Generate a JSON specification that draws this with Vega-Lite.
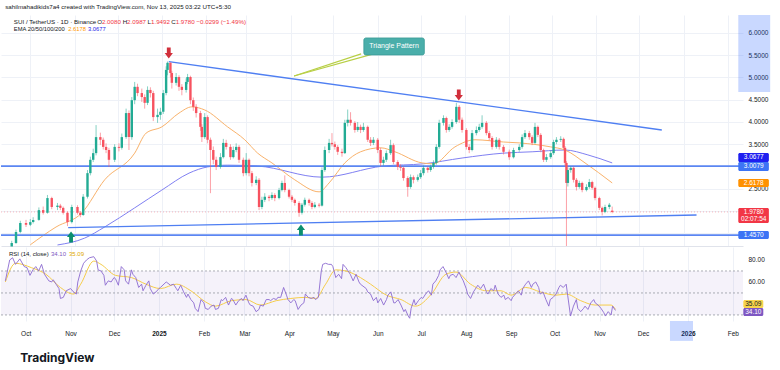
{
"$schema":"https://vega.github.io/schema/vega-lite/v6.json",
"background":"#ffffff",
"padding":{"left":0,"top":3,"right":0,"bottom":0},
"config":{"view":{"stroke":null},"font":"Liberation Sans","axis":{"title":null,"domain":false,"ticks":false,"gridColor":"#eef1f7","gridWidth":1,"labelColor":"#131722","labelFontSize":6.5,"labelFont":"Liberation Sans","labelOverlap":false,"labelBound":false},"text":{"font":"Liberation Sans"}},
"title":{"text":"TradingView","orient":"bottom","anchor":"start","font":"Inter","fontSize":12,"fontWeight":"bold","color":"#131722","dx":20,"offset":12},
"spacing":0,
"datasets":{
"candles":[
{"d":-105,"o":1.20,"h":1.33,"l":1.17,"c":1.28},{"d":-102,"o":1.28,"h":1.58,"l":1.26,"c":1.53},{"d":-99,"o":1.53,"h":1.78,"l":1.50,"c":1.73},{"d":-95,"o":1.73,"h":1.80,"l":1.64,"c":1.69},{"d":-92,"o":1.69,"h":1.82,"l":1.66,"c":1.75},{"d":-90,"o":1.75,"h":1.86,"l":1.72,"c":1.80},{"d":-86,"o":1.80,"h":2.08,"l":1.78,"c":2.02},{"d":-83,"o":2.02,"h":2.10,"l":1.92,"c":1.96},{"d":-80,"o":1.96,"h":2.36,"l":1.94,"c":2.29},{"d":-77,"o":2.29,"h":2.32,"l":2.04,"c":2.09},{"d":-73,"o":2.09,"h":2.18,"l":2.02,"c":2.12},{"d":-71,"o":2.12,"h":2.16,"l":2.02,"c":2.07},{"d":-69,"o":2.07,"h":2.10,"l":1.92,"c":1.96},{"d":-66,"o":1.96,"h":1.99,"l":1.66,"c":1.75},{"d":-63,"o":1.75,"h":2.14,"l":1.72,"c":2.09},{"d":-59,"o":2.09,"h":2.13,"l":1.92,"c":1.96},{"d":-57,"o":1.96,"h":2.00,"l":1.86,"c":1.91},{"d":-55,"o":1.91,"h":2.38,"l":1.89,"c":2.32},{"d":-52,"o":2.32,"h":2.92,"l":2.28,"c":2.85},{"d":-50,"o":2.85,"h":3.22,"l":2.80,"c":3.15},{"d":-48,"o":3.15,"h":3.40,"l":3.10,"c":3.30},{"d":-46,"o":3.30,"h":3.93,"l":3.25,"c":3.66},{"d":-43,"o":3.66,"h":3.76,"l":3.48,"c":3.60},{"d":-41,"o":3.60,"h":3.65,"l":3.38,"c":3.44},{"d":-39,"o":3.44,"h":3.52,"l":3.30,"c":3.37},{"d":-37,"o":3.37,"h":3.42,"l":2.99,"c":3.15},{"d":-33,"o":3.15,"h":3.50,"l":3.10,"c":3.44},{"d":-30,"o":3.44,"h":3.52,"l":3.34,"c":3.42},{"d":-28,"o":3.42,"h":3.74,"l":3.38,"c":3.66},{"d":-25,"o":3.66,"h":4.30,"l":3.62,"c":4.20},{"d":-23,"o":4.20,"h":4.26,"l":3.37,"c":3.66},{"d":-21,"o":3.66,"h":4.56,"l":3.60,"c":4.49},{"d":-19,"o":4.49,"h":4.90,"l":4.40,"c":4.79},{"d":-17,"o":4.79,"h":4.86,"l":4.58,"c":4.65},{"d":-14,"o":4.65,"h":4.75,"l":4.45,"c":4.56},{"d":-12,"o":4.56,"h":4.62,"l":4.30,"c":4.43},{"d":-10,"o":4.43,"h":4.80,"l":4.38,"c":4.72},{"d":-8,"o":4.72,"h":4.78,"l":4.55,"c":4.65},{"d":-6,"o":4.65,"h":4.70,"l":4.02,"c":4.11},{"d":-3,"o":4.11,"h":4.30,"l":3.98,"c":4.16},{"d":-1,"o":4.16,"h":4.32,"l":4.05,"c":4.23},{"d":1,"o":4.23,"h":4.72,"l":4.18,"c":4.65},{"d":3,"o":4.65,"h":5.25,"l":4.60,"c":5.17},{"d":4,"o":5.17,"h":5.36,"l":5.05,"c":5.33},{"d":6,"o":5.33,"h":5.34,"l":5.00,"c":5.10},{"d":7,"o":5.10,"h":5.15,"l":4.75,"c":4.88},{"d":10,"o":4.88,"h":5.10,"l":4.82,"c":5.01},{"d":12,"o":5.01,"h":5.05,"l":4.70,"c":4.79},{"d":14,"o":4.79,"h":4.85,"l":4.60,"c":4.72},{"d":17,"o":4.72,"h":4.98,"l":4.66,"c":4.90},{"d":18,"o":4.90,"h":5.08,"l":4.85,"c":5.01},{"d":20,"o":5.01,"h":5.04,"l":4.40,"c":4.49},{"d":22,"o":4.49,"h":4.55,"l":4.25,"c":4.34},{"d":24,"o":4.34,"h":4.40,"l":4.10,"c":4.20},{"d":27,"o":4.20,"h":4.25,"l":3.80,"c":3.89},{"d":28,"o":3.89,"h":3.95,"l":3.55,"c":3.66},{"d":30,"o":3.66,"h":4.20,"l":3.62,"c":4.11},{"d":32,"o":4.11,"h":4.15,"l":3.52,"c":3.60},{"d":34,"o":3.60,"h":3.65,"l":2.40,"c":3.37},{"d":36,"o":3.37,"h":3.45,"l":3.05,"c":3.15},{"d":38,"o":3.15,"h":3.22,"l":2.92,"c":2.99},{"d":41,"o":2.99,"h":3.30,"l":2.95,"c":3.21},{"d":43,"o":3.21,"h":3.62,"l":3.18,"c":3.53},{"d":45,"o":3.53,"h":3.60,"l":3.38,"c":3.44},{"d":48,"o":3.44,"h":3.50,"l":3.15,"c":3.21},{"d":50,"o":3.21,"h":3.45,"l":3.18,"c":3.37},{"d":52,"o":3.37,"h":3.52,"l":3.32,"c":3.44},{"d":54,"o":3.44,"h":3.48,"l":3.08,"c":3.15},{"d":57,"o":3.15,"h":3.20,"l":2.78,"c":2.85},{"d":59,"o":2.85,"h":3.30,"l":2.80,"c":3.15},{"d":61,"o":3.15,"h":3.18,"l":2.78,"c":2.85},{"d":63,"o":2.85,"h":2.90,"l":2.55,"c":2.63},{"d":66,"o":2.63,"h":2.78,"l":2.58,"c":2.70},{"d":68,"o":2.70,"h":2.74,"l":2.02,"c":2.09},{"d":70,"o":2.09,"h":2.32,"l":2.04,"c":2.25},{"d":72,"o":2.25,"h":2.40,"l":2.20,"c":2.32},{"d":75,"o":2.32,"h":2.36,"l":2.22,"c":2.29},{"d":77,"o":2.29,"h":2.42,"l":2.25,"c":2.36},{"d":79,"o":2.36,"h":2.40,"l":2.22,"c":2.29},{"d":82,"o":2.29,"h":2.52,"l":2.26,"c":2.47},{"d":84,"o":2.47,"h":2.68,"l":2.44,"c":2.63},{"d":86,"o":2.63,"h":2.80,"l":2.42,"c":2.47},{"d":89,"o":2.47,"h":2.50,"l":2.28,"c":2.32},{"d":91,"o":2.32,"h":2.36,"l":2.20,"c":2.25},{"d":93,"o":2.25,"h":2.28,"l":2.12,"c":2.18},{"d":96,"o":2.18,"h":2.22,"l":1.87,"c":1.96},{"d":98,"o":1.96,"h":2.18,"l":1.92,"c":2.14},{"d":100,"o":2.14,"h":2.30,"l":2.10,"c":2.25},{"d":103,"o":2.25,"h":2.28,"l":2.12,"c":2.18},{"d":105,"o":2.18,"h":2.22,"l":2.04,"c":2.09},{"d":107,"o":2.09,"h":2.20,"l":2.06,"c":2.14},{"d":110,"o":2.14,"h":2.18,"l":2.08,"c":2.12},{"d":112,"o":2.12,"h":2.98,"l":2.10,"c":2.92},{"d":114,"o":2.92,"h":3.45,"l":2.88,"c":3.37},{"d":117,"o":3.37,"h":3.62,"l":3.30,"c":3.53},{"d":119,"o":3.53,"h":3.75,"l":3.45,"c":3.50},{"d":121,"o":3.50,"h":3.56,"l":3.38,"c":3.44},{"d":123,"o":3.44,"h":3.48,"l":3.26,"c":3.33},{"d":126,"o":3.33,"h":3.40,"l":3.22,"c":3.30},{"d":128,"o":3.30,"h":4.05,"l":3.28,"c":3.98},{"d":130,"o":3.98,"h":4.28,"l":3.90,"c":4.05},{"d":132,"o":4.05,"h":4.22,"l":3.92,"c":3.98},{"d":135,"o":3.98,"h":4.02,"l":3.76,"c":3.82},{"d":137,"o":3.82,"h":4.00,"l":3.78,"c":3.89},{"d":139,"o":3.89,"h":3.94,"l":3.75,"c":3.82},{"d":141,"o":3.82,"h":3.98,"l":3.78,"c":3.89},{"d":144,"o":3.89,"h":3.92,"l":3.55,"c":3.60},{"d":146,"o":3.60,"h":3.66,"l":3.46,"c":3.53},{"d":148,"o":3.53,"h":3.66,"l":3.48,"c":3.60},{"d":151,"o":3.60,"h":3.64,"l":3.30,"c":3.37},{"d":153,"o":3.37,"h":3.42,"l":3.00,"c":3.08},{"d":155,"o":3.08,"h":3.22,"l":3.02,"c":3.15},{"d":157,"o":3.15,"h":3.36,"l":3.10,"c":3.30},{"d":160,"o":3.30,"h":3.60,"l":3.26,"c":3.48},{"d":162,"o":3.48,"h":3.52,"l":3.05,"c":3.10},{"d":165,"o":3.10,"h":3.14,"l":2.92,"c":2.99},{"d":167,"o":2.99,"h":3.05,"l":2.90,"c":2.97},{"d":169,"o":2.97,"h":3.00,"l":2.68,"c":2.74},{"d":172,"o":2.74,"h":2.78,"l":2.32,"c":2.54},{"d":174,"o":2.54,"h":2.82,"l":2.50,"c":2.76},{"d":176,"o":2.76,"h":2.80,"l":2.62,"c":2.70},{"d":179,"o":2.70,"h":2.82,"l":2.66,"c":2.76},{"d":181,"o":2.76,"h":2.92,"l":2.72,"c":2.85},{"d":183,"o":2.85,"h":3.02,"l":2.80,"c":2.97},{"d":186,"o":2.97,"h":3.00,"l":2.86,"c":2.92},{"d":188,"o":2.92,"h":3.04,"l":2.88,"c":2.99},{"d":190,"o":2.99,"h":3.14,"l":2.95,"c":3.08},{"d":192,"o":3.08,"h":3.50,"l":3.04,"c":3.44},{"d":194,"o":3.44,"h":4.05,"l":3.40,"c":3.98},{"d":197,"o":3.98,"h":4.15,"l":3.92,"c":4.09},{"d":199,"o":4.09,"h":4.12,"l":3.76,"c":3.82},{"d":201,"o":3.82,"h":3.95,"l":3.78,"c":3.89},{"d":203,"o":3.89,"h":4.06,"l":3.85,"c":4.00},{"d":206,"o":4.00,"h":4.43,"l":3.96,"c":4.34},{"d":208,"o":4.34,"h":4.38,"l":3.98,"c":4.05},{"d":210,"o":4.05,"h":4.10,"l":3.76,"c":3.82},{"d":213,"o":3.82,"h":3.86,"l":3.38,"c":3.44},{"d":215,"o":3.44,"h":3.50,"l":3.30,"c":3.37},{"d":217,"o":3.37,"h":3.82,"l":3.34,"c":3.75},{"d":220,"o":3.75,"h":3.90,"l":3.70,"c":3.82},{"d":222,"o":3.82,"h":3.96,"l":3.78,"c":3.89},{"d":224,"o":3.89,"h":4.15,"l":3.85,"c":3.98},{"d":227,"o":3.98,"h":4.02,"l":3.70,"c":3.75},{"d":229,"o":3.75,"h":3.80,"l":3.58,"c":3.64},{"d":231,"o":3.64,"h":3.68,"l":3.38,"c":3.44},{"d":234,"o":3.44,"h":3.66,"l":3.40,"c":3.60},{"d":236,"o":3.60,"h":3.64,"l":3.38,"c":3.44},{"d":239,"o":3.44,"h":3.48,"l":3.27,"c":3.33},{"d":243,"o":3.33,"h":3.38,"l":3.15,"c":3.21},{"d":246,"o":3.21,"h":3.42,"l":3.18,"c":3.37},{"d":250,"o":3.37,"h":3.50,"l":3.33,"c":3.44},{"d":252,"o":3.44,"h":3.72,"l":3.40,"c":3.66},{"d":254,"o":3.66,"h":3.82,"l":3.62,"c":3.75},{"d":257,"o":3.75,"h":3.80,"l":3.60,"c":3.66},{"d":259,"o":3.66,"h":3.70,"l":3.48,"c":3.53},{"d":261,"o":3.53,"h":3.98,"l":3.50,"c":3.89},{"d":263,"o":3.89,"h":3.92,"l":3.66,"c":3.71},{"d":265,"o":3.71,"h":3.75,"l":3.32,"c":3.37},{"d":267,"o":3.37,"h":3.40,"l":3.10,"c":3.15},{"d":269,"o":3.15,"h":3.28,"l":3.10,"c":3.21},{"d":272,"o":3.21,"h":3.36,"l":3.17,"c":3.30},{"d":274,"o":3.30,"h":3.60,"l":3.26,"c":3.55},{"d":276,"o":3.55,"h":3.66,"l":3.50,"c":3.60},{"d":279,"o":3.60,"h":3.68,"l":3.55,"c":3.62},{"d":281,"o":3.62,"h":3.65,"l":3.38,"c":3.42},{"d":282,"o":3.42,"h":3.46,"l":3.02,"c":3.08},{"d":283,"o":3.08,"h":3.12,"l":0.60,"c":2.63},{"d":284,"o":2.63,"h":2.98,"l":2.55,"c":2.92},{"d":286,"o":2.92,"h":3.00,"l":2.86,"c":2.97},{"d":288,"o":2.97,"h":3.00,"l":2.64,"c":2.70},{"d":290,"o":2.70,"h":2.74,"l":2.46,"c":2.54},{"d":292,"o":2.54,"h":2.68,"l":2.50,"c":2.63},{"d":294,"o":2.63,"h":2.66,"l":2.42,"c":2.47},{"d":297,"o":2.47,"h":2.60,"l":2.44,"c":2.54},{"d":299,"o":2.54,"h":2.72,"l":2.50,"c":2.65},{"d":301,"o":2.65,"h":2.68,"l":2.48,"c":2.52},{"d":303,"o":2.52,"h":2.55,"l":2.24,"c":2.29},{"d":306,"o":2.29,"h":2.32,"l":2.02,"c":2.07},{"d":308,"o":2.07,"h":2.10,"l":1.90,"c":1.98},{"d":310,"o":1.98,"h":2.14,"l":1.95,"c":2.09},{"d":313,"o":2.09,"h":2.18,"l":2.04,"c":2.14},{"d":315,"o":2.008,"h":2.099,"l":1.949,"c":1.978}
],
"ema50":[{"d":-92,"p":1.24},{"d":-74,"p":1.64},{"d":-56,"p":1.955},{"d":-40,"p":2.70},{"d":-19,"p":3.30},{"d":-11,"p":3.75},{"d":0,"p":3.89},{"d":12,"p":4.20},{"d":21,"p":4.34},{"d":30,"p":4.27},{"d":46,"p":3.89},{"d":58,"p":3.60},{"d":67,"p":3.30},{"d":77,"p":3.08},{"d":93,"p":2.70},{"d":110,"p":2.43},{"d":117,"p":2.63},{"d":128,"p":3.08},{"d":139,"p":3.33},{"d":153,"p":3.42},{"d":163,"p":3.33},{"d":182,"p":3.08},{"d":190,"p":3.06},{"d":205,"p":3.44},{"d":219,"p":3.60},{"d":239,"p":3.55},{"d":250,"p":3.53},{"d":272,"p":3.44},{"d":282,"p":3.37},{"d":296,"p":3.08},{"d":315,"p":2.63}],
"ema200":[{"d":-73,"p":1.236},{"d":-54,"p":1.39},{"d":-40,"p":1.64},{"d":-19,"p":2.07},{"d":0,"p":2.47},{"d":19,"p":2.85},{"d":32,"p":2.99},{"d":46,"p":3.03},{"d":67,"p":3.01},{"d":112,"p":2.76},{"d":155,"p":3.01},{"d":183,"p":3.06},{"d":210,"p":3.19},{"d":239,"p":3.30},{"d":259,"p":3.33},{"d":282,"p":3.37},{"d":298,"p":3.26},{"d":315,"p":3.08}],
"hlines":[{"p":3.0079},{"p":1.457}],
"cur":[{"p":1.978}],
"trend":[{"g":"a","d":4.85,"p":5.355},{"g":"a","d":349.7,"p":3.82},{"g":"b","d":-65.5,"p":1.625},{"g":"b","d":374,"p":1.91}],
"pointer":[{"g":"a","d":92.5,"p":5.034},{"g":"a","d":139.4,"p":5.53},{"g":"b","d":92.5,"p":5.034},{"g":"b","d":148,"p":5.53}],
"callout":[{"d1":141.3,"d2":183.6,"p1":5.888,"p2":5.506,"d":162.4,"p":5.697,"t":"Triangle Pattern"}],
"arrows":[{"d":4.85,"p":5.55,"k":"down"},{"d":207.7,"p":4.607,"k":"down"},{"d":-63.5,"p":1.416,"k":"up"},{"d":97.3,"p":1.573,"k":"up"}],
"legend":[{"d":-103.5,"p":6.247,"t":"SUI / TetherUS · 1D · Binance","k":"dark"},{"d":-45.2,"p":6.247,"t":"O","k":"dark"},{"d":-41.9,"p":6.247,"t":"2.0080","k":"red"},{"d":-27.4,"p":6.247,"t":"H","k":"dark"},{"d":-24.3,"p":6.247,"t":"2.0987","k":"red"},{"d":-10.0,"p":6.247,"t":"L","k":"dark"},{"d":-7.6,"p":6.247,"t":"1.9492","k":"red"},{"d":6.6,"p":6.247,"t":"C","k":"dark"},{"d":9.7,"p":6.247,"t":"1.9780","k":"red"},{"d":24.2,"p":6.247,"t":"−0.0299 (−1.49%)","k":"red"}],
"legend2":[{"d":-103.5,"p":6.09,"t":"EMA 20/50/100/200","k":"dark"},{"d":-65.5,"p":6.09,"t":"2.6178","k":"orange"},{"d":-51.7,"p":6.09,"t":"3.0677","k":"blue"}],
"tagbox":[{"k":"navy","p1":3.303,"p2":3.101},{"k":"blue","p1":3.101,"p2":2.899},{"k":"orange","p1":2.719,"p2":2.539},{"k":"red","p1":2.067,"p2":1.730},{"k":"blue","p1":1.551,"p2":1.371}],
"tagtext":[{"t":"3.0677","p":3.202},{"t":"3.0079","p":3.0},{"t":"2.6178","p":2.629},{"t":"1.9780","p":1.978},{"t":"02:07:54","p":1.81},{"t":"1.4570","p":1.461}],
"axhl":[{"p1":6.404,"p2":4.674}],
"rsi":[{"d":-106,"r":61},{"d":-103,"r":80},{"d":-101,"r":82},{"d":-99,"r":76},{"d":-96,"r":81},{"d":-93,"r":74},{"d":-91,"r":73},{"d":-89,"r":66},{"d":-87,"r":71},{"d":-85,"r":74},{"d":-83,"r":70},{"d":-81,"r":76},{"d":-79,"r":67},{"d":-76,"r":61},{"d":-74,"r":60},{"d":-73,"r":62},{"d":-71,"r":58},{"d":-69,"r":54},{"d":-68,"r":45},{"d":-66,"r":46},{"d":-64,"r":52},{"d":-61,"r":54},{"d":-59,"r":51},{"d":-57,"r":49},{"d":-56,"r":60},{"d":-54,"r":70},{"d":-52,"r":77},{"d":-50,"r":80},{"d":-48,"r":82},{"d":-45,"r":83},{"d":-43,"r":79},{"d":-42,"r":71},{"d":-40,"r":70},{"d":-38,"r":66},{"d":-37,"r":57},{"d":-35,"r":61},{"d":-33,"r":60},{"d":-31,"r":64},{"d":-30,"r":63},{"d":-28,"r":57},{"d":-26,"r":74},{"d":-24,"r":71},{"d":-23,"r":61},{"d":-21,"r":58},{"d":-19,"r":71},{"d":-18,"r":67},{"d":-16,"r":64},{"d":-14,"r":55},{"d":-12,"r":58},{"d":-11,"r":52},{"d":-9,"r":57},{"d":-7,"r":61},{"d":-6,"r":54},{"d":-4,"r":49},{"d":-2,"r":51},{"d":0,"r":54},{"d":1,"r":55},{"d":5,"r":60},{"d":8,"r":57},{"d":10,"r":58},{"d":12,"r":54},{"d":13,"r":52},{"d":15,"r":57},{"d":17,"r":51},{"d":19,"r":46},{"d":20,"r":49},{"d":22,"r":44},{"d":24,"r":41},{"d":25,"r":36},{"d":27,"r":33},{"d":29,"r":44},{"d":31,"r":41},{"d":32,"r":36},{"d":34,"r":35},{"d":36,"r":38},{"d":38,"r":39},{"d":39,"r":35},{"d":41,"r":36},{"d":43,"r":44},{"d":44,"r":43},{"d":46,"r":46},{"d":48,"r":39},{"d":50,"r":45},{"d":51,"r":44},{"d":53,"r":39},{"d":55,"r":43},{"d":57,"r":45},{"d":58,"r":43},{"d":60,"r":48},{"d":62,"r":41},{"d":63,"r":39},{"d":65,"r":38},{"d":67,"r":33},{"d":69,"r":35},{"d":70,"r":39},{"d":72,"r":38},{"d":74,"r":44},{"d":76,"r":44},{"d":77,"r":43},{"d":79,"r":45},{"d":81,"r":44},{"d":82,"r":46},{"d":84,"r":46},{"d":86,"r":55},{"d":88,"r":48},{"d":89,"r":44},{"d":91,"r":41},{"d":93,"r":44},{"d":94,"r":43},{"d":96,"r":35},{"d":98,"r":39},{"d":100,"r":41},{"d":101,"r":49},{"d":103,"r":46},{"d":105,"r":45},{"d":107,"r":46},{"d":108,"r":44},{"d":110,"r":46},{"d":112,"r":70},{"d":113,"r":76},{"d":115,"r":77},{"d":117,"r":76},{"d":119,"r":76},{"d":120,"r":74},{"d":122,"r":64},{"d":124,"r":67},{"d":126,"r":63},{"d":127,"r":76},{"d":129,"r":73},{"d":131,"r":69},{"d":132,"r":67},{"d":134,"r":61},{"d":136,"r":67},{"d":138,"r":60},{"d":139,"r":58},{"d":143,"r":54},{"d":144,"r":51},{"d":146,"r":49},{"d":148,"r":43},{"d":150,"r":46},{"d":151,"r":41},{"d":153,"r":45},{"d":155,"r":39},{"d":157,"r":44},{"d":158,"r":48},{"d":160,"r":51},{"d":162,"r":41},{"d":163,"r":41},{"d":165,"r":44},{"d":167,"r":39},{"d":169,"r":33},{"d":170,"r":35},{"d":172,"r":29},{"d":173,"r":27},{"d":174,"r":36},{"d":176,"r":44},{"d":177,"r":39},{"d":179,"r":43},{"d":181,"r":46},{"d":182,"r":45},{"d":184,"r":49},{"d":186,"r":52},{"d":188,"r":48},{"d":189,"r":58},{"d":191,"r":61},{"d":193,"r":66},{"d":194,"r":71},{"d":196,"r":74},{"d":198,"r":69},{"d":200,"r":63},{"d":201,"r":66},{"d":203,"r":67},{"d":205,"r":64},{"d":207,"r":69},{"d":208,"r":66},{"d":210,"r":61},{"d":212,"r":54},{"d":213,"r":49},{"d":215,"r":45},{"d":217,"r":51},{"d":219,"r":55},{"d":220,"r":57},{"d":222,"r":54},{"d":224,"r":58},{"d":226,"r":51},{"d":227,"r":49},{"d":229,"r":54},{"d":231,"r":52},{"d":232,"r":57},{"d":234,"r":49},{"d":236,"r":46},{"d":238,"r":48},{"d":239,"r":44},{"d":241,"r":46},{"d":243,"r":43},{"d":244,"r":46},{"d":246,"r":49},{"d":248,"r":52},{"d":250,"r":48},{"d":251,"r":54},{"d":253,"r":58},{"d":255,"r":61},{"d":257,"r":55},{"d":258,"r":58},{"d":260,"r":60},{"d":262,"r":55},{"d":263,"r":49},{"d":265,"r":51},{"d":267,"r":44},{"d":269,"r":38},{"d":270,"r":44},{"d":272,"r":46},{"d":274,"r":49},{"d":276,"r":55},{"d":277,"r":57},{"d":279,"r":55},{"d":281,"r":58},{"d":282,"r":48},{"d":284,"r":29},{"d":286,"r":38},{"d":288,"r":44},{"d":289,"r":36},{"d":291,"r":33},{"d":293,"r":36},{"d":294,"r":38},{"d":296,"r":35},{"d":298,"r":41},{"d":300,"r":44},{"d":301,"r":41},{"d":303,"r":39},{"d":305,"r":36},{"d":307,"r":32},{"d":308,"r":29},{"d":310,"r":33},{"d":312,"r":30},{"d":313,"r":38},{"d":315,"r":34.1}],
"rsima":[{"d":-106,"r":60},{"d":-99,"r":77},{"d":-88,"r":73},{"d":-78,"r":67},{"d":-68,"r":55},{"d":-59,"r":49},{"d":-54,"r":58},{"d":-45,"r":79},{"d":-40,"r":76},{"d":-30,"r":66},{"d":-19,"r":64},{"d":-9,"r":58},{"d":1,"r":54},{"d":12,"r":58},{"d":22,"r":52},{"d":32,"r":42},{"d":39,"r":38},{"d":50,"r":43},{"d":60,"r":44},{"d":70,"r":39},{"d":81,"r":43},{"d":91,"r":45},{"d":101,"r":46},{"d":108,"r":45},{"d":115,"r":58},{"d":122,"r":71},{"d":129,"r":70},{"d":139,"r":64},{"d":146,"r":58},{"d":157,"r":48},{"d":167,"r":44},{"d":177,"r":38},{"d":188,"r":49},{"d":198,"r":67},{"d":205,"r":69},{"d":215,"r":58},{"d":226,"r":52},{"d":236,"r":52},{"d":243,"r":48},{"d":253,"r":55},{"d":263,"r":51},{"d":274,"r":48},{"d":281,"r":49},{"d":291,"r":43},{"d":301,"r":39},{"d":312,"r":39},{"d":315,"r":35.09}],
"rsilegend":[{"d":-103.5,"r":85.5,"t":"RSI (14, close)","k":"dark"},{"d":-74.5,"r":85.5,"t":"34.10","k":"purple"},{"d":-62.1,"r":85.5,"t":"35.09","k":"yellow"}],
"rsitag":[{"k":"yellow","r1":43.6,"r2":36.4,"r":40.0,"t":"35.09"},{"k":"purple","r1":36.4,"r2":29.1,"r":32.7,"t":"34.10"}],
"hl2026":[{"d1":352.6,"d2":368.5}]
},
"vconcat":[
{
"width":742,"height":231,
"title":{"text":"sahilmahadikids7a4 created with TradingView.com, Nov 13, 2025 03:22 UTC+5:30","anchor":"start","fontSize":6.2,"fontWeight":"normal","color":"#131722","offset":5,"dx":5,"font":"Liberation Sans"},
"resolve":{"scale":{"color":"independent","shape":"independent"}},
"layer":[
{"data":{"name":"axhl"},"mark":{"type":"rect","color":"#2962ff","opacity":0.25},"encoding":{"x":{"datum":403.2,"type":"quantitative","scale":{"domain":[-109,403],"nice":false,"zero":false}},"x2":{"datum":425.5},"y":{"field":"p1","type":"quantitative","scale":{"domain":[1.213,6.404],"nice":false,"zero":false}},"y2":{"field":"p2"}}},
{"data":{"name":"ema200"},"mark":{"type":"line","color":"#8080f2","strokeWidth":1,"interpolate":"monotone"},"encoding":{"x":{"field":"d","type":"quantitative","scale":{"domain":[-109,403],"nice":false,"zero":false}},"y":{"field":"p","type":"quantitative","scale":{"domain":[1.213,6.404],"nice":false,"zero":false}}}},
{"data":{"name":"ema50"},"mark":{"type":"line","color":"#f9b26b","strokeWidth":1,"interpolate":"monotone"},"encoding":{"x":{"field":"d","type":"quantitative","scale":{"domain":[-109,403],"nice":false,"zero":false}},"y":{"field":"p","type":"quantitative","scale":{"domain":[1.213,6.404],"nice":false,"zero":false}}}},
{"data":{"name":"hlines"},"mark":{"type":"rule","color":"#5b86f2","strokeWidth":1.6},"encoding":{"y":{"field":"p","type":"quantitative","scale":{"domain":[1.213,6.404],"nice":false,"zero":false}}}},
{"data":{"name":"cur"},"mark":{"type":"rule","color":"#f23645","strokeWidth":1,"opacity":0.35,"strokeDash":[1,2]},"encoding":{"y":{"field":"p","type":"quantitative","scale":{"domain":[1.213,6.404],"nice":false,"zero":false}}}},
{"data":{"name":"trend"},"mark":{"type":"line","color":"#4f7ff2","strokeWidth":1.3},"encoding":{"detail":{"field":"g"},"x":{"field":"d","type":"quantitative","scale":{"domain":[-109,403],"nice":false,"zero":false}},"y":{"field":"p","type":"quantitative","scale":{"domain":[1.213,6.404],"nice":false,"zero":false}}}},
{"data":{"name":"candles"},"mark":{"type":"rule","strokeWidth":1,"opacity":0.55,"clip":true},"encoding":{
"x":{"field":"d","type":"quantitative","scale":{"domain":[-109,403],"nice":false,"zero":false},"axis":{"orient":"bottom","values":[-92,-61,-31,0,31,59,90,120,151,181,212,243,273,304,334,365,396],"tickCount":40,"labels":false,"grid":true,"domain":true,"domainColor":"#e0e3eb"}},
"y":{"field":"l","type":"quantitative","scale":{"domain":[1.213,6.404],"nice":false,"zero":false},"axis":{"orient":"right","values":[1.5,2,2.5,3,3.5,4,4.5,5,5.5,6],"tickCount":40,"format":".4f","labelExpr":"datum.value==1.5||datum.value==2||datum.value==3?'':datum.label","labelOverlap":false,"grid":true,"labelPadding":5}},
"y2":{"field":"h"},
"color":{"condition":{"test":"datum.c>=datum.o","value":"#22ab94"},"value":"#f7525f"}}},
{"data":{"name":"candles"},"mark":{"type":"bar","size":2.4},"encoding":{
"x":{"field":"d","type":"quantitative","scale":{"domain":[-109,403],"nice":false,"zero":false}},
"y":{"field":"o","type":"quantitative","scale":{"domain":[1.213,6.404],"nice":false,"zero":false}},
"y2":{"field":"c"},
"color":{"condition":{"test":"datum.c>=datum.o","value":"#22ab94"},"value":"#f7525f"}}},
{"data":{"name":"arrows"},"mark":{"type":"point","filled":true,"opacity":1,"size":120},"encoding":{
"x":{"field":"d","type":"quantitative","scale":{"domain":[-109,403],"nice":false,"zero":false}},
"y":{"field":"p","type":"quantitative","scale":{"domain":[1.213,6.404],"nice":false,"zero":false}},
"shape":{"field":"k","type":"nominal","scale":{"domain":["down","up"],"range":["M-0.35,-1L0.35,-1L0.35,0L0.75,0L0,1L-0.75,0L-0.35,0Z","M-0.35,1L0.35,1L0.35,0L0.75,0L0,-1L-0.75,0L-0.35,0Z"]},"legend":null},
"color":{"field":"k","type":"nominal","scale":{"domain":["down","up"],"range":["#d12f3b","#0b8f6f"]},"legend":null}}},
{"data":{"name":"pointer"},"mark":{"type":"line","color":"#b8cf45","strokeWidth":1.2},"encoding":{"detail":{"field":"g"},"x":{"field":"d","type":"quantitative","scale":{"domain":[-109,403],"nice":false,"zero":false}},"y":{"field":"p","type":"quantitative","scale":{"domain":[1.213,6.404],"nice":false,"zero":false}}}},
{"data":{"name":"callout"},"mark":{"type":"rect","color":"#4aaeaa","cornerRadius":2,"stroke":"#3a9a96","strokeWidth":0.8},"encoding":{"x":{"field":"d1","type":"quantitative","scale":{"domain":[-109,403],"nice":false,"zero":false}},"x2":{"field":"d2"},"y":{"field":"p1","type":"quantitative","scale":{"domain":[1.213,6.404],"nice":false,"zero":false}},"y2":{"field":"p2"}}},
{"data":{"name":"callout"},"mark":{"type":"text","color":"#ffffff","fontSize":7,"align":"center","baseline":"middle"},"encoding":{"text":{"field":"t"},"x":{"field":"d","type":"quantitative","scale":{"domain":[-109,403],"nice":false,"zero":false}},"y":{"field":"p","type":"quantitative","scale":{"domain":[1.213,6.404],"nice":false,"zero":false}}}},
{"data":{"name":"legend"},"mark":{"type":"text","align":"left","baseline":"middle","fontSize":6.2},"encoding":{"text":{"field":"t"},"x":{"field":"d","type":"quantitative","scale":{"domain":[-109,403],"nice":false,"zero":false}},"y":{"field":"p","type":"quantitative","scale":{"domain":[1.213,6.404],"nice":false,"zero":false}},"color":{"field":"k","type":"nominal","scale":{"domain":["dark","red"],"range":["#131722","#f23645"]},"legend":null}}},
{"data":{"name":"legend2"},"mark":{"type":"text","align":"left","baseline":"middle","fontSize":5.8},"encoding":{"text":{"field":"t"},"x":{"field":"d","type":"quantitative","scale":{"domain":[-109,403],"nice":false,"zero":false}},"y":{"field":"p","type":"quantitative","scale":{"domain":[1.213,6.404],"nice":false,"zero":false}},"color":{"field":"k","type":"nominal","scale":{"domain":["dark","orange","blue"],"range":["#131722","#ff9800","#2424e8"]},"legend":null}}},
{"data":{"name":"tagbox"},"mark":{"type":"rect","cornerRadius":1.5},"encoding":{"x":{"datum":403.2,"type":"quantitative","scale":{"domain":[-109,403],"nice":false,"zero":false}},"x2":{"datum":424.6},"y":{"field":"p1","type":"quantitative","scale":{"domain":[1.213,6.404],"nice":false,"zero":false}},"y2":{"field":"p2"},"color":{"field":"k","type":"nominal","scale":{"domain":["navy","blue","orange","red"],"range":["#1f1ff0","#3d74f5","#ff9100","#f23645"]},"legend":null}}},
{"data":{"name":"tagtext"},"mark":{"type":"text","color":"#ffffff","fontSize":6.5,"align":"center","baseline":"middle"},"encoding":{"text":{"field":"t"},"x":{"datum":414,"type":"quantitative","scale":{"domain":[-109,403],"nice":false,"zero":false}},"y":{"field":"p","type":"quantitative","scale":{"domain":[1.213,6.404],"nice":false,"zero":false}}}}
]
},
{
"width":742,"height":74,
"resolve":{"scale":{"color":"independent"}},
"layer":[
{"data":{"values":[{"a":30,"b":70}]},"mark":{"type":"rect","color":"#7e57c2","opacity":0.08},"encoding":{"y":{"field":"a","type":"quantitative","scale":{"domain":[24.5,91.8],"nice":false,"zero":false}},"y2":{"field":"b"}}},
{"data":{"values":[{"r":70},{"r":50},{"r":30}]},"mark":{"type":"rule","color":"#9598a1","strokeDash":[2,2],"strokeWidth":0.8},"encoding":{"y":{"field":"r","type":"quantitative","scale":{"domain":[24.5,91.8],"nice":false,"zero":false}}}},
{"data":{"name":"rsima"},"mark":{"type":"line","color":"#f5cd4a","strokeWidth":1,"interpolate":"monotone"},"encoding":{"x":{"field":"d","type":"quantitative","scale":{"domain":[-109,403],"nice":false,"zero":false}},"y":{"field":"r","type":"quantitative","scale":{"domain":[24.5,91.8],"nice":false,"zero":false}}}},
{"data":{"name":"rsi"},"mark":{"type":"line","color":"#8c6bd0","strokeWidth":0.9},"encoding":{
"x":{"field":"d","type":"quantitative","scale":{"domain":[-109,403],"nice":false,"zero":false},"axis":{"orient":"bottom","values":[-92,-61,-31,0,31,59,90,120,151,181,212,243,273,304,334,365,396],"tickCount":40,"labelExpr":"datum.value==0?'2025':datum.value==365?'2026':timeFormat(datetime(2025,0,1+datum.value),'%b')","labelFontWeight":{"condition":{"test":"datum.value==0||datum.value==365","value":"bold"},"value":"normal"},"grid":true,"labelPadding":9,"labelFlush":false,"labelOverlap":false}},
"y":{"field":"r","type":"quantitative","scale":{"domain":[24.5,91.8],"nice":false,"zero":false},"axis":{"orient":"right","values":[60,80],"tickCount":10,"format":".2f","grid":false,"labelPadding":5,"labelOverlap":false}}}},
{"data":{"name":"hl2026"},"mark":{"type":"rect","color":"#2962ff","opacity":0.25},"encoding":{"x":{"field":"d1","type":"quantitative","scale":{"domain":[-109,403],"nice":false,"zero":false}},"x2":{"field":"d2"},"y":{"datum":24.5,"type":"quantitative","scale":{"domain":[24.5,91.8],"nice":false,"zero":false}},"y2":{"datum":6.4}}},
{"data":{"name":"rsilegend"},"mark":{"type":"text","align":"left","baseline":"middle","fontSize":6},"encoding":{"text":{"field":"t"},"x":{"field":"d","type":"quantitative","scale":{"domain":[-109,403],"nice":false,"zero":false}},"y":{"field":"r","type":"quantitative","scale":{"domain":[24.5,91.8],"nice":false,"zero":false}},"color":{"field":"k","type":"nominal","scale":{"domain":["dark","purple","yellow"],"range":["#131722","#7e57c2","#e0a800"]},"legend":null}}},
{"data":{"name":"rsitag"},"mark":{"type":"rect","cornerRadius":1.5},"encoding":{"x":{"datum":403.2,"type":"quantitative","scale":{"domain":[-109,403],"nice":false,"zero":false}},"x2":{"datum":417},"y":{"field":"r1","type":"quantitative","scale":{"domain":[24.5,91.8],"nice":false,"zero":false}},"y2":{"field":"r2"},"color":{"field":"k","type":"nominal","scale":{"domain":["yellow","purple"],"range":["#f7d44c","#7e57c2"]},"legend":null}}},
{"data":{"name":"rsitag"},"mark":{"type":"text","fontSize":6.5,"align":"center","baseline":"middle"},"encoding":{"text":{"field":"t"},"x":{"datum":410.1,"type":"quantitative","scale":{"domain":[-109,403],"nice":false,"zero":false}},"y":{"field":"r","type":"quantitative","scale":{"domain":[24.5,91.8],"nice":false,"zero":false}},"color":{"condition":{"test":"datum.k=='yellow'","value":"#131722"},"value":"#ffffff"}}}
]
}
]
}
